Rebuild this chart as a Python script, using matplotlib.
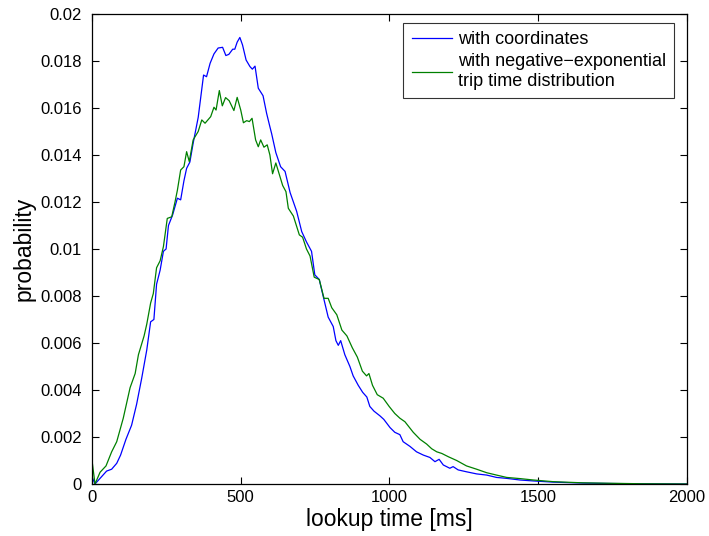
import matplotlib
matplotlib.use('Agg')
import matplotlib.pyplot as plt

plt.rcParams['font.family'] = ['Liberation Sans', 'DejaVu Sans']

# Lookup time distribution (ms, probability)
t_coord = [0, 10, 27, 49, 66, 83, 96, 114, 133, 150, 167, 184, 197, 208, 217, 229, 240, 249,
           257, 271, 287, 298, 309, 318, 329, 340, 357, 375, 385, 397, 410, 424, 439, 450,
           460, 473, 480, 488, 497, 506, 518, 531, 539, 548, 559, 575, 587, 598, 604, 618,
           634, 649, 666, 688, 705, 721, 738, 749, 764, 777, 794, 811, 820, 828, 836, 850,
           867, 878, 895, 910, 924, 934, 948, 968, 981, 1002, 1018, 1035, 1046, 1069, 1091,
           1114, 1136, 1153, 1167, 1181, 1203, 1214, 1231, 1259, 1293, 1327, 1360, 1394,
           1439, 1484, 1550, 1650, 1750, 1850, 2000]
p_coord = [0.0003, 0.0, 0.00024, 0.00055, 0.00063, 0.00088, 0.00123, 0.0019, 0.0025, 0.0034,
           0.0045, 0.0057, 0.0069, 0.0070, 0.0085, 0.0091, 0.0099, 0.0100, 0.0110, 0.01145,
           0.01216, 0.01209, 0.0129, 0.01343, 0.0137, 0.0145, 0.0156, 0.0174, 0.01733, 0.0179,
           0.0183, 0.01855, 0.01858, 0.01823, 0.01828, 0.0185, 0.0185, 0.0188, 0.0190, 0.01868,
           0.01804, 0.01776, 0.01765, 0.01778, 0.01684, 0.01652, 0.01577, 0.0152, 0.0149,
           0.0141, 0.0135, 0.0133, 0.0124, 0.0116, 0.01074, 0.0103, 0.0099, 0.0089, 0.0087,
           0.0080, 0.0071, 0.0067, 0.0061, 0.0059, 0.0061, 0.0055, 0.0050, 0.0046, 0.0042,
           0.0039, 0.0037, 0.0033, 0.0031, 0.0029, 0.00275, 0.0024, 0.0022, 0.0021, 0.0018,
           0.0016, 0.00137, 0.00123, 0.00113, 0.00095, 0.00105, 0.00081, 0.00067, 0.00074,
           0.0006, 0.00052, 0.00043, 0.00038, 0.00028, 0.00024, 0.00017, 0.00013, 0.00008,
           0.00004, 0.00002, 0.00001, 0.0]

t_negexp = [0, 10, 27, 47, 66, 83, 105, 128, 145, 156, 175, 184, 197, 206, 217, 229, 240, 253,
            268, 279, 287, 298, 309, 318, 327, 340, 357, 369, 380, 399, 410, 417, 428, 438,
            449, 461, 477, 488, 500, 509, 520, 529, 538, 550, 559, 567, 578, 589, 598, 607,
            618, 629, 641, 652, 660, 677, 697, 708, 721, 733, 747, 764, 780, 794, 806, 823,
            840, 857, 875, 892, 909, 923, 931, 943, 959, 979, 999, 1018, 1035, 1052, 1080,
            1103, 1125, 1142, 1159, 1176, 1198, 1226, 1259, 1293, 1327, 1360, 1394, 1439,
            1484, 1550, 1650, 1750, 1850, 2000]
p_negexp = [0.001, 0.0, 0.0005, 0.00077, 0.00137, 0.0018, 0.0028, 0.0041, 0.0047, 0.0055,
            0.0063, 0.0068, 0.0077, 0.0081, 0.0092, 0.0095, 0.0101, 0.0113, 0.01137, 0.0120,
            0.0125, 0.01336, 0.0135, 0.01414, 0.01372, 0.01464, 0.0150, 0.01549, 0.01535,
            0.01563, 0.01603, 0.01591, 0.01674, 0.01609, 0.01644, 0.01631, 0.01589, 0.01645,
            0.01591, 0.01537, 0.01546, 0.01542, 0.01556, 0.01464, 0.01435, 0.01464, 0.01433,
            0.01443, 0.0140, 0.0132, 0.01366, 0.0132, 0.0127, 0.01244, 0.01173, 0.0114, 0.0106,
            0.0105, 0.0100, 0.0097, 0.0088, 0.0087, 0.0079, 0.0079, 0.0075, 0.0072, 0.00655,
            0.0063, 0.0058, 0.0054, 0.0048, 0.0046, 0.0047, 0.0042, 0.0038, 0.00365, 0.0033,
            0.0030, 0.0028, 0.00265, 0.0022, 0.0019, 0.0017, 0.0015, 0.00137, 0.0013, 0.00116,
            0.001, 0.00077, 0.00063, 0.00048, 0.00038, 0.00028, 0.00023, 0.00017, 0.0001,
            0.00005, 0.00003, 0.00001, 0.0]

x_ticks = [0, 500, 1000, 1500, 2000]
y_ticks = [0, 0.002, 0.004, 0.006, 0.008, 0.01, 0.012, 0.014, 0.016, 0.018, 0.02]
y_tick_labels = ['0', '0.002', '0.004', '0.006', '0.008', '0.01', '0.012', '0.014',
                 '0.016', '0.018', '0.02']

fig = plt.figure(figsize=(7.09, 5.36), dpi=100)
ax = fig.add_axes([0.1298, 0.097, 0.839, 0.877])

ax.plot(t_coord, p_coord, color='#0000ff', linewidth=0.9, label='with coordinates')
ax.plot(t_negexp, p_negexp, color='#008000', linewidth=0.9,
        label='with negative\u2212exponential\ntrip time distribution')

ax.set_xlim(0, 2000)
ax.set_ylim(0, 0.02)
ax.set_xticks(x_ticks)
ax.set_yticks(y_ticks)
ax.set_yticklabels(y_tick_labels)
ax.tick_params(direction='in', length=5, width=0.8, top=True, right=True, labelsize=12)
ax.tick_params(axis='y', pad=7.5)
ax.tick_params(axis='x', pad=4.5)
for s in ax.spines.values():
    s.set_linewidth(0.9)

ax.set_xlabel('lookup time [ms]', fontsize=16.5, labelpad=2)
ax.set_ylabel('probability', fontsize=16.5, labelpad=3)

leg = ax.legend(loc='upper right', bbox_to_anchor=(0.978, 0.981), borderaxespad=0,
                fontsize=13, frameon=True, fancybox=False, edgecolor='black',
                handlelength=2.25, labelspacing=0.3, handletextpad=0.3, borderpad=0.45)
leg.get_frame().set_linewidth(0.8)

plt.savefig('out.png', dpi=100)
